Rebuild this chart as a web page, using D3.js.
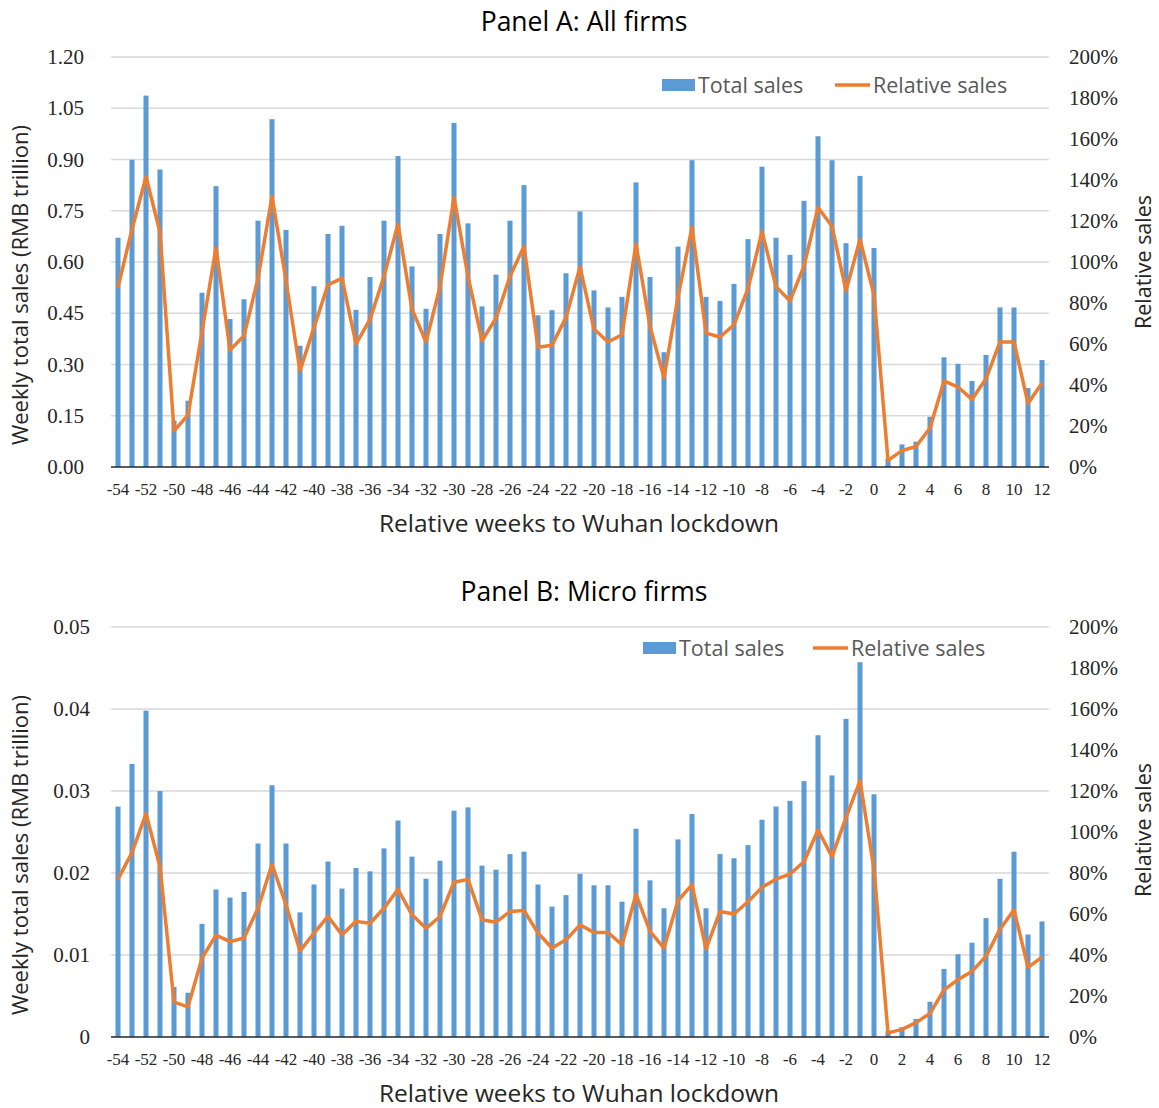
<!DOCTYPE html>
<html>
<head>
<meta charset="utf-8">
<script src="https://cdn.jsdelivr.net/npm/d3@7"></script>
<style>
  body { margin: 0; background: #fff; }
  svg { display: block; }
</style>
</head>
<body>
<div id="chart"></div>
<script>
// weeks relative to the Wuhan lockdown
var weeks = d3.range(-54, 13);
var xTickWeeks = weeks.filter(function(w) { return w % 2 === 0; });

// Panel A: all firms, weekly total sales (RMB trillion) and relative sales (%)
var totalA = [0.671, 0.899, 1.087, 0.871, 0.136, 0.194, 0.510, 0.822, 0.433, 0.491,
  0.721, 1.018, 0.694, 0.355, 0.529, 0.682, 0.706, 0.460, 0.556, 0.721,
  0.910, 0.587, 0.463, 0.682, 1.007, 0.713, 0.470, 0.563, 0.721, 0.825,
  0.444, 0.459, 0.567, 0.748, 0.517, 0.467, 0.498, 0.833, 0.556, 0.336,
  0.645, 0.898, 0.498, 0.486, 0.536, 0.667, 0.879, 0.671, 0.621, 0.779,
  0.968, 0.898, 0.655, 0.852, 0.641, 0.025, 0.066, 0.074, 0.147, 0.321,
  0.302, 0.252, 0.328, 0.467, 0.467, 0.231, 0.313];
var relA = [87.6, 116, 141.6, 114.5, 17.7, 25.3, 66, 107, 57, 64,
  92, 132, 91, 47, 68, 89, 92, 60, 72, 93,
  118.5, 77, 61, 88, 131.5, 93, 61.6, 72.6, 93, 107.6,
  58.4, 59.4, 73, 97.6, 67.3, 61, 64.5, 108.9, 68.6, 43.5,
  83, 117, 65.3, 63.4, 69.4, 87, 114.8, 88, 81, 98,
  126.6, 117.4, 86, 111, 83.9, 3.2, 8, 10, 19, 42,
  39, 33, 43, 61, 61, 31, 41];

// Panel B: micro firms
var totalB = [0.0281, 0.0333, 0.0398, 0.0300, 0.0061, 0.0054, 0.0138, 0.0180, 0.0170, 0.0177,
  0.0236, 0.0307, 0.0236, 0.0152, 0.0186, 0.0214, 0.0181, 0.0206, 0.0202, 0.0230,
  0.0264, 0.0220, 0.0193, 0.0215, 0.0276, 0.0280, 0.0209, 0.0204, 0.0223, 0.0226,
  0.0186, 0.0159, 0.0173, 0.0199, 0.0185, 0.0185, 0.0165, 0.0254, 0.0191, 0.0157,
  0.0241, 0.0272, 0.0157, 0.0223, 0.0218, 0.0234, 0.0265, 0.0281, 0.0288, 0.0312,
  0.0368, 0.0319, 0.0388, 0.0457, 0.0296, 0.0007, 0.0012, 0.0022, 0.0043, 0.0083,
  0.0101, 0.0115, 0.0145, 0.0193, 0.0226, 0.0125, 0.0141];
var relB = [77, 90, 109, 83, 17, 14.7, 38.5, 49.7, 46.5, 48.3,
  62.8, 84.2, 64.5, 42, 50.7, 58.8, 49.9, 56.4, 55.5, 62.8,
  72, 59.6, 53, 58.8, 75.5, 76.9, 57.2, 56, 61.2, 61.7,
  50.7, 43.4, 47.4, 54.7, 51, 51, 45, 69.6, 51.5, 43.4,
  66.6, 74.2, 43, 61.2, 60, 66, 73, 77, 79.5, 85.5,
  101, 88, 107, 125, 82, 2, 3.7, 7, 11.5, 23,
  28, 32, 39.4, 52.6, 62, 34, 39];

var yTicksA = [0, 0.15, 0.30, 0.45, 0.60, 0.75, 0.90, 1.05, 1.20];
var yTicksB = [0, 0.01, 0.02, 0.03, 0.04, 0.05];
var relTicks = [0, 20, 40, 60, 80, 100, 120, 140, 160, 180, 200];

var width = 1159, height = 1108;
var svg = d3.select('#chart').append('svg')
    .attr('width', width)
    .attr('height', height);

var tickFont = '"Liberation Serif", serif';
var textFont = '"Open Sans", "Noto Sans", sans-serif';
var barColor = '#5b9bd5', lineColor = '#ed7d31';

var x = d3.scaleBand().domain(weeks).range([111, 1049]).paddingInner(0.64).paddingOuter(0.32);

function drawPanel(p) {
  var top = p.top, bottom = p.top + 410;
  var y = d3.scaleLinear().domain([0, p.yTicks[p.yTicks.length - 1]]).range([bottom, top]);
  var y2 = d3.scaleLinear().domain([0, 200]).range([bottom, top]);
  var g = svg.append('g');

  // gridlines
  g.selectAll('.grid').data(p.yTicks.slice(1)).enter().append('line')
      .attr('x1', 111).attr('x2', 1049)
      .attr('y1', function(d) { return y(d); })
      .attr('y2', function(d) { return y(d); })
      .attr('stroke', '#d9d9d9').attr('stroke-width', 1.5);

  // bars
  g.selectAll('.bar').data(p.total).enter().append('rect')
      .attr('x', function(d, i) { return x(weeks[i]); })
      .attr('width', x.bandwidth())
      .attr('y', function(d) { return y(d); })
      .attr('height', function(d) { return bottom - y(d); })
      .attr('fill', barColor);

  // x axis
  var xa = g.append('g')
      .attr('transform', 'translate(0,' + bottom + ')')
      .call(d3.axisBottom(x).tickValues(xTickWeeks).tickSize(0).tickPadding(16));
  xa.select('.domain').attr('stroke', '#262626').attr('stroke-width', 1.5)
      .attr('d', 'M111,0H1049');
  xa.selectAll('text').attr('font-family', tickFont).attr('font-size', 17)
      .attr('fill', '#262626');

  // relative sales line
  var line = d3.line()
      .x(function(d, i) { return x(weeks[i]) + x.bandwidth() / 2; })
      .y(function(d) { return y2(d); });
  g.append('path')
      .datum(p.rel)
      .attr('fill', 'none')
      .attr('stroke', lineColor)
      .attr('stroke-width', 3.5)
      .attr('stroke-linejoin', 'round')
      .attr('d', line);

  // left axis
  var ya = g.append('g')
      .attr('transform', 'translate(' + p.leftTickX + ',0)')
      .call(d3.axisLeft(y).tickValues(p.yTicks).tickSize(0).tickPadding(0).tickFormat(p.fmt));
  ya.select('.domain').remove();
  ya.selectAll('text').attr('font-family', tickFont).attr('font-size', 21).attr('fill', '#262626');

  // right axis
  var ra = g.append('g')
      .attr('transform', 'translate(1069,0)')
      .call(d3.axisRight(y2).tickValues(relTicks).tickSize(0).tickPadding(0)
        .tickFormat(function(d) { return d + '%'; }));
  ra.select('.domain').remove();
  ra.selectAll('text').attr('font-family', tickFont).attr('font-size', 21).attr('fill', '#262626');

  // titles
  g.append('text')
      .attr('x', 584).attr('y', top - 26)
      .attr('text-anchor', 'middle')
      .attr('font-family', textFont).attr('font-size', 26.5).attr('fill', '#000')
      .text(p.title);
  g.append('text')
      .attr('x', 579).attr('y', bottom + 65)
      .attr('text-anchor', 'middle')
      .attr('font-family', textFont).attr('font-size', 24.5).attr('fill', '#262626')
      .text('Relative weeks to Wuhan lockdown');
  g.append('text')
      .attr('transform', 'translate(28,' + (top + 228) + ') rotate(-90)')
      .attr('text-anchor', 'middle')
      .attr('font-family', textFont).attr('font-size', 22).attr('fill', '#262626')
      .text('Weekly total sales (RMB trillion)');
  g.append('text')
      .attr('transform', 'translate(1151,' + (top + p.rightTitleDy) + ') rotate(-90)')
      .attr('text-anchor', 'middle')
      .attr('font-family', textFont).attr('font-size', 21.5).attr('fill', '#262626')
      .text('Relative sales');

  // legend
  var lg = g.append('g').attr('transform', 'translate(' + p.legendX + ',' + p.legendY + ')');
  lg.append('rect').attr('x', 0).attr('y', -6).attr('width', 33).attr('height', 12).attr('fill', barColor);
  lg.append('text').attr('x', 36).attr('y', 8)
      .attr('font-family', textFont).attr('font-size', 21.5).attr('fill', '#595959')
      .text('Total sales');
  lg.append('line').attr('x1', p.legendGap).attr('x2', p.legendGap + 35)
      .attr('y1', 0).attr('y2', 0)
      .attr('stroke', lineColor).attr('stroke-width', 3.5);
  lg.append('text').attr('x', p.legendGap + 38).attr('y', 8)
      .attr('font-family', textFont).attr('font-size', 21.5).attr('fill', '#595959')
      .text('Relative sales');
}

drawPanel({
  top: 57, title: 'Panel A: All firms', total: totalA, rel: relA,
  yTicks: yTicksA, fmt: d3.format('.2f'), leftTickX: 84,
  rightTitleDy: 205, legendX: 662, legendY: 85, legendGap: 173
});
drawPanel({
  top: 627, title: 'Panel B: Micro firms', total: totalB, rel: relB,
  yTicks: yTicksB, fmt: function(d) { return d === 0 ? '0' : d3.format('.2f')(d); }, leftTickX: 90,
  rightTitleDy: 203, legendX: 643, legendY: 648, legendGap: 170
});
</script>
</body>
</html>
